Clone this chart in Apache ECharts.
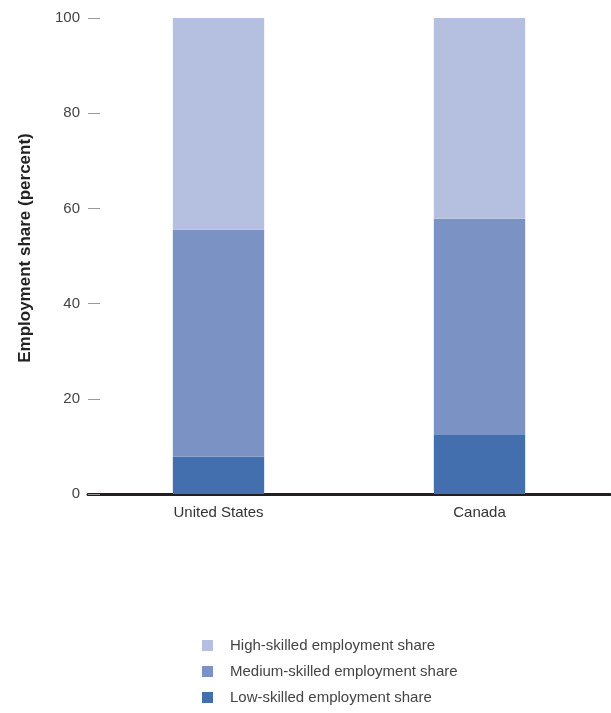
<!DOCTYPE html>
<html><head><meta charset="utf-8">
<script src="https://cdn.jsdelivr.net/npm/echarts@6/dist/echarts.min.js"></script>
<style>html,body{margin:0;padding:0;background:#fff}#c{width:611px;height:713px}</style>
</head><body><div id="c"></div>
<script>
const categories = ['United States', 'Canada'];
const lowSkilled = [7.8, 12.4];
const mediumSkilled = [47.7, 45.4];
const highSkilled = [44.5, 42.2];
const yTicks = [0, 20, 40, 60, 80, 100];

const FONT = '"Liberation Sans", Arial, sans-serif';
const chart = echarts.init(document.getElementById('c'), null, {renderer: 'canvas'});
chart.setOption({
  animation: false,
  textStyle: {fontFamily: FONT},
  grid: {left: 88, right: 1, top: 18, bottom: 219, containLabel: false, outerBoundsMode: 'none'},
  legend: {
    orient: 'vertical', left: 197, top: 633, height: 100,
    itemWidth: 11, itemHeight: 11, itemGap: 11,
    icon: 'rect',
    textStyle: {fontFamily: FONT, fontSize: 15, color: '#444', padding: [0, 0, 0, 12]},
    data: ['High-skilled employment share', 'Medium-skilled employment share', 'Low-skilled employment share']
  },
  xAxis: {
    type: 'category', data: categories,
    axisLine: {lineStyle: {color: '#231f20', width: 3}},
    axisTick: {show: false},
    axisLabel: {fontFamily: FONT, fontSize: 15, color: '#333', margin: 11}
  },
  yAxis: {
    type: 'value', min: 0, max: 100, interval: 20,
    name: 'Employment share (percent)', nameLocation: 'middle', nameGap: 54,
    nameTextStyle: {fontFamily: FONT, fontSize: 17, color: '#222', fontWeight: 'bold', padding: [0, 0, 0, 16]},
    axisLine: {show: false},
    axisTick: {show: true, inside: true, length: 12, lineStyle: {color: '#999', width: 1}},
    splitLine: {show: false},
    axisLabel: {fontFamily: FONT, fontSize: 15, color: '#444', margin: 8,
      formatter: v => yTicks.includes(v) ? String(v) : ''}
  },
  series: [
    {name: 'Low-skilled employment share', type: 'bar', stack: 's', data: lowSkilled, barWidth: '35%', itemStyle: {color: '#446fae'}},
    {name: 'Medium-skilled employment share', type: 'bar', stack: 's', data: mediumSkilled, itemStyle: {color: '#7b93c4'}},
    {name: 'High-skilled employment share', type: 'bar', stack: 's', data: highSkilled, itemStyle: {color: '#b5bfdf'}}
  ]
});
</script></body></html>
